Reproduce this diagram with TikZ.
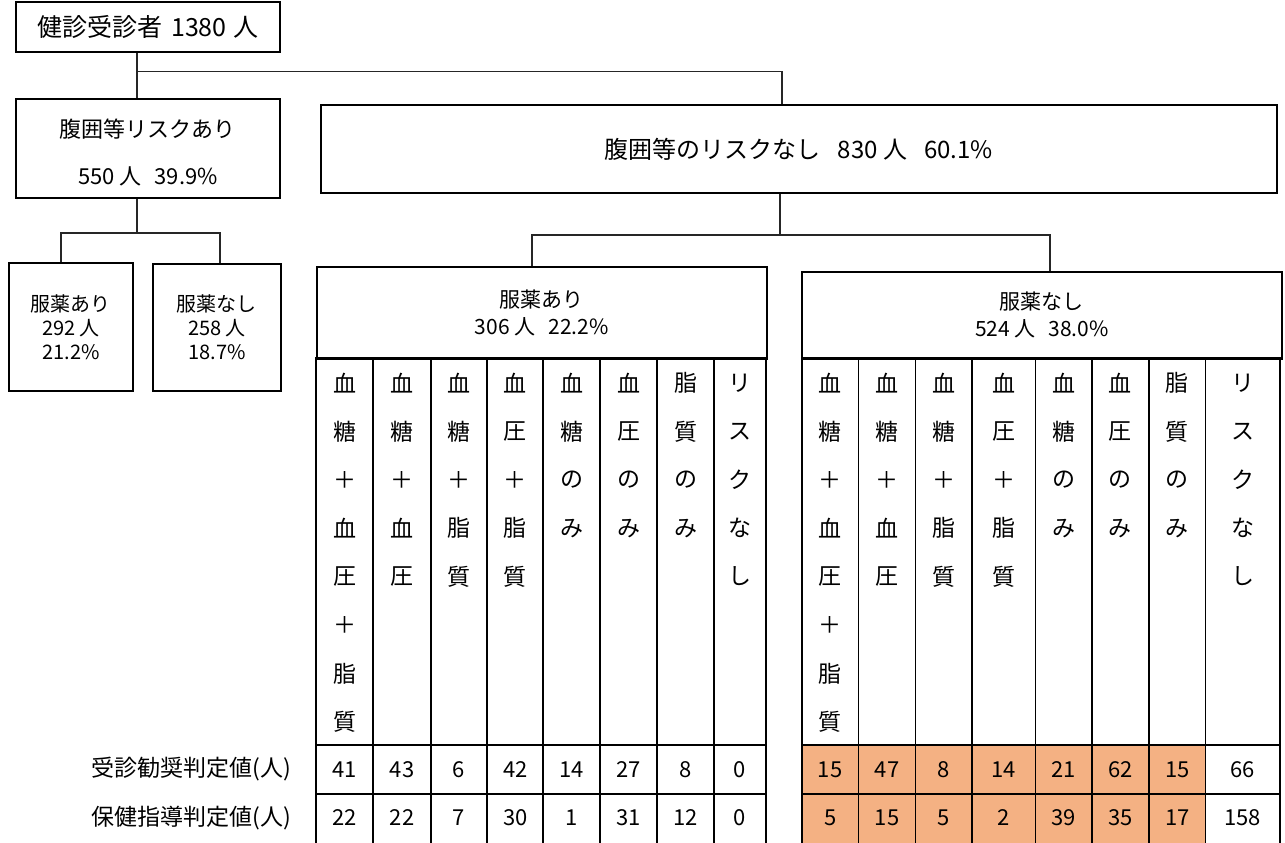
\documentclass[tikz,border=0pt]{standalone}
\usepackage{fontspec}
\setmainfont{Noto Sans CJK JP}
\usetikzlibrary{calc}
\definecolor{cellorange}{HTML}{F4B183}
\newcommand\fz[2]{\fontsize{#1pt}{#2pt}\selectfont}
\begin{document}
\begin{tikzpicture}[x=1pt,y=-1pt,
  box/.style={draw=black, line width=1.8pt, inner sep=0pt, align=center, anchor=north west},
  conn/.style={draw=black!85, line width=1.1pt},
  grid/.style={draw=black, line width=1.8pt},
  txt/.style={inner sep=0pt, anchor=center},
  vch/.style={txt, font=\fz{23}{23}},
  num/.style={txt, font=\fz{22}{22}},
  lab/.style={inner sep=0pt, anchor=east, font=\fz{23}{23}}]
\useasboundingbox (0,0) rectangle (1285,843);

% ---- boxes
\node[box, minimum width=264, minimum height=50, font=\fz{25}{30}] (top) at (15,1) {健診受診者\hspace{9pt}1380\hspace{7pt}人};
\node[box, minimum width=264, minimum height=99, font=\fz{22}{47}] (risk) at (15,98) {\rule{0pt}{26pt}腹囲等リスクあり\\550 人\hspace{13pt}39.9\%};
\node[box, minimum width=956, minimum height=88, font=\fz{24}{29}] (norisk) at (320,104) {腹囲等のリスクなし\hspace{17pt}830 人\hspace{17pt}60.1\%};
\node[box, minimum width=124, minimum height=128, font=\fz{20}{24}] (medA) at (8,262) {服薬あり\\292 人\\21.2\%};
\node[box, minimum width=128, minimum height=127, font=\fz{20}{24}] (medB) at (152,263) {服薬なし\\258 人\\18.7\%};
\node[box, minimum width=450, minimum height=92, font=\fz{21}{27}] (hdrL) at (316,266) {服薬あり\\306 人\hspace{13pt}22.2\%};
\node[box, minimum width=480, minimum height=87, font=\fz{21}{27}] (hdrR) at (801,271) {服薬なし\\524 人\hspace{13pt}38.0\%};

% ---- connectors
\coordinate (x137) at (137,0);
\coordinate (x61) at (61,0);
\coordinate (x220) at (220,0);
\coordinate (x782) at (782,0);
\coordinate (x780) at (780,0);
\coordinate (x532) at (532,0);
\coordinate (x1050) at (1050,0);
\coordinate (j1) at (137,71.5);
\coordinate (j2) at (137,233);
\coordinate (j3) at (780,235);
\draw[conn] (x137 |- top.south) -- (x137 |- risk.north);
\draw[conn] (j1) -| (x782 |- norisk.north);
\draw[conn] (x137 |- risk.south) -- (j2);
\draw[conn] (x61 |- medA.north) |- (j2) -| (x220 |- medB.north);
\draw[conn] (x780 |- norisk.south) -- (j3);
\draw[conn] (x532 |- hdrL.north) |- (j3) -| (x1050 |- hdrR.north);

% ---- left table grid
\foreach \a/\b in {315.7/373.3, 373.3/430.7, 430.7/487.3, 487.3/543.3, 543.3/600, 600/657.3, 657.3/714, 714/766}{
  \draw[grid] (\a,358) rectangle (\b,745);
  \draw[grid] (\a,745) rectangle (\b,794);
  \draw[grid] (\a,794) rectangle (\b,852);
}
% ---- right table grid
\foreach \a/\b in {801.7/858.5, 858.5/915.5, 915.5/972, 972/1035.5, 1035.5/1092, 1092/1148.8, 1148.8/1205.5}{
  \fill[cellorange] (\a,745) rectangle (\b,852);
}
\foreach \a/\b in {801.7/858.5, 858.5/915.5, 915.5/972, 972/1035.5, 1035.5/1092, 1092/1148.8, 1148.8/1205.5, 1205.5/1280}{
  \draw[grid] (\a,358) rectangle (\b,745);
  \draw[grid] (\a,745) rectangle (\b,794);
  \draw[grid] (\a,794) rectangle (\b,852);
}

% ---- vertical column headings
\foreach \cx/\chars [count=\k] in {344.5/{血,糖,＋,血,圧,＋,脂,質}, 402/{血,糖,＋,血,圧}, 459/{血,糖,＋,脂,質}, 515.3/{血,圧,＋,脂,質}, 571.7/{血,糖,の,み}, 628.7/{血,圧,の,み}, 685.7/{脂,質,の,み}, 740/{リ,ス,ク,な,し}}{
  \foreach \ch [count=\i from 0] in \chars {
    \node[vch] (hl\k-\i) at (\cx, 383+48.4*\i) {\ch};
  }
}
\foreach \cx/\chars [count=\k] in {830.1/{血,糖,＋,血,圧,＋,脂,質}, 887/{血,糖,＋,血,圧}, 943.8/{血,糖,＋,脂,質}, 1003.8/{血,圧,＋,脂,質}, 1063.8/{血,糖,の,み}, 1120.4/{血,圧,の,み}, 1177.2/{脂,質,の,み}, 1242.8/{リ,ス,ク,な,し}}{
  \foreach \ch [count=\i from 0] in \chars {
    \node[vch] (hr\k-\i) at (\cx, 383+48.4*\i) {\ch};
  }
}

% ---- row labels
\node[lab] (lab1) at (291,769.5) {受診勧奨判定値(人)};
\node[lab] (lab2) at (291,818) {保健指導判定値(人)};

% ---- numbers
\foreach \cx/\p/\q [count=\k] in {344.5/41/22, 402/43/22, 459/6/7, 515.3/42/30, 571.7/14/1, 628.7/27/31, 685.7/8/12, 740/0/0}{
  \node[num] (nl1-\k) at (\cx,769.5) {\p};
  \node[num] (nl2-\k) at (\cx,818) {\q};
}
\foreach \cx/\p/\q [count=\k] in {830.1/15/5, 887/47/15, 943.8/8/5, 1003.8/14/2, 1063.8/21/39, 1120.4/62/35, 1177.2/15/17, 1242.8/66/158}{
  \node[num] (nr1-\k) at (\cx,769.5) {\p};
  \node[num] (nr2-\k) at (\cx,818) {\q};
}
\end{tikzpicture}
\end{document}
